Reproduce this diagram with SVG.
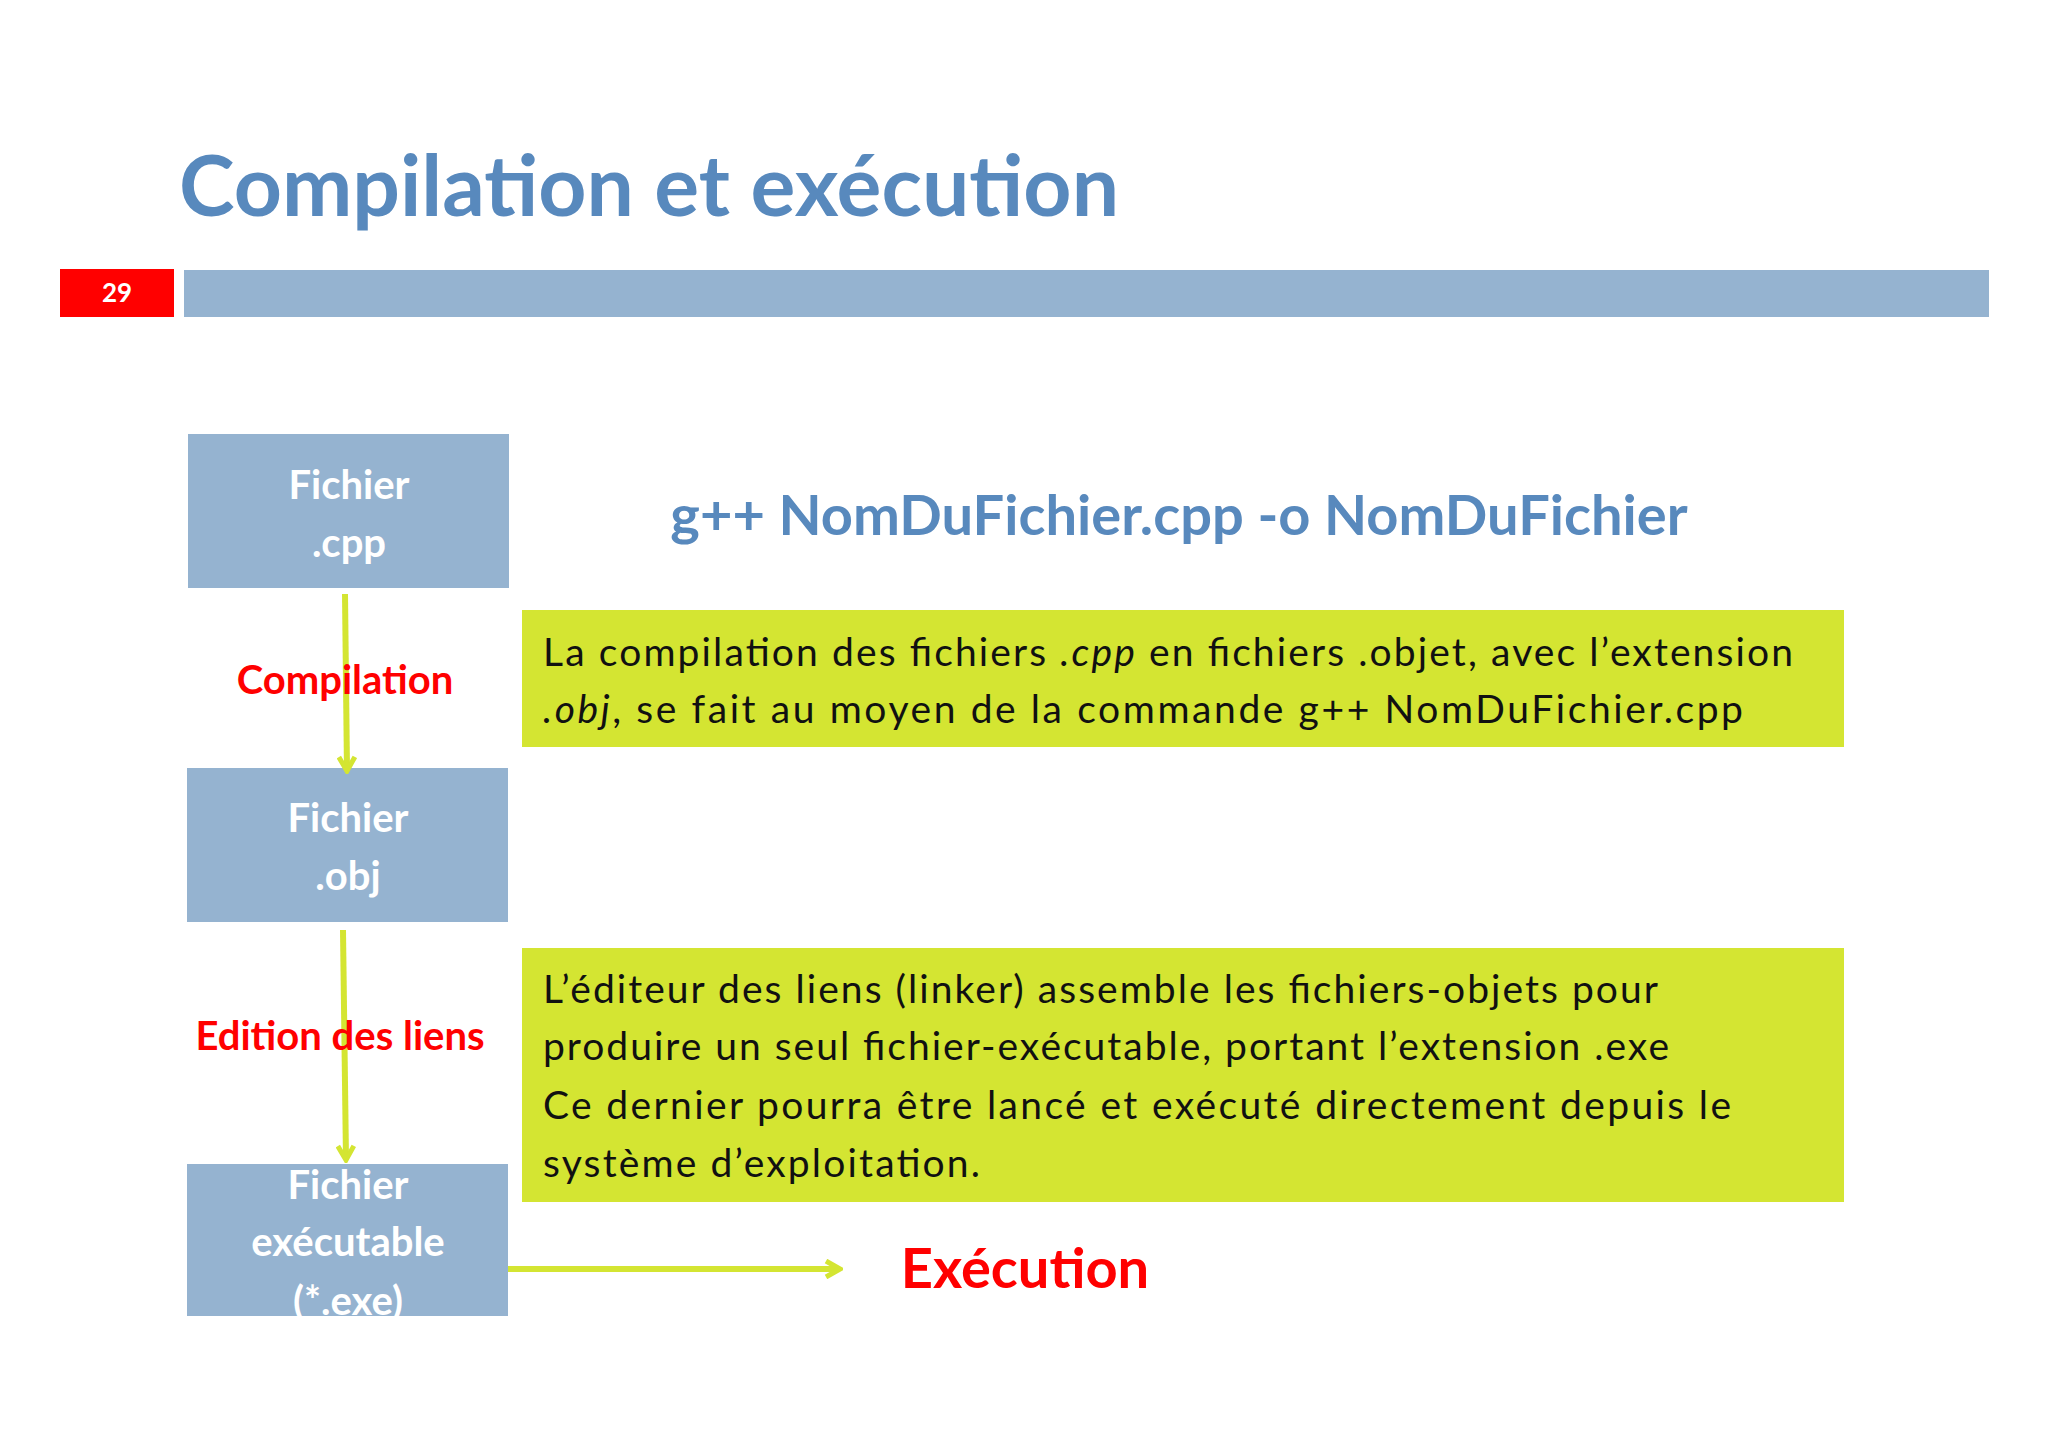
<svg xmlns="http://www.w3.org/2000/svg" width="2048" height="1447" viewBox="0 0 2048 1447">
<defs>
<style>
.t{font-family:Lato,"Open Sans","Liberation Sans",sans-serif}
.box{fill:#95b3d0}
.bt{font-family:Lato,"Open Sans",sans-serif;font-weight:bold;font-size:40px;fill:#fff;text-anchor:middle}
.gr{fill:#d4e532}
.body{font-family:Lato,"Open Sans",sans-serif;font-size:39px;fill:#111}
.red{font-family:Lato,"Open Sans",sans-serif;font-weight:bold;fill:#f00;text-anchor:middle}
.arr{stroke:#d4e532;stroke-width:6;fill:none}
</style>
<marker id="ah" viewBox="0 0 20 20" refX="17" refY="10" markerWidth="20" markerHeight="20" markerUnits="userSpaceOnUse" orient="auto"><path d="M3,2 L17,10 L3,18" fill="none" stroke="#d4e532" stroke-width="5"/></marker>
</defs>
<rect width="2048" height="1447" fill="#fff"/>
<text class="t" x="179" y="216" font-size="84" font-weight="bold" fill="#5889bd">Compilation et exécution</text>
<rect x="60" y="269" width="114" height="48" fill="#f00"/>
<text class="t" x="117" y="302" font-size="26" font-weight="bold" fill="#fff" text-anchor="middle">29</text>
<rect x="184" y="270" width="1805" height="47" fill="#95b3d0"/>
<g id="cpp"><rect class="box" x="188" y="434" width="321" height="154"/><text class="bt" x="349" y="499">Fichier</text><text class="bt" x="349" y="557">.cpp</text></g>
<g id="obj"><rect class="box" x="187" y="768" width="321" height="154"/><text class="bt" x="348" y="832">Fichier</text><text class="bt" x="348" y="890">.obj</text></g>
<g id="exe"><rect class="box" x="187" y="1164" width="321" height="152"/><text class="bt" x="348" y="1199">Fichier</text><text class="bt" x="348" y="1256">exécutable</text><text class="bt" x="348" y="1315">(*.exe)</text></g>
<text class="t" x="1179" y="535" font-size="56" font-weight="bold" fill="#5889bd" text-anchor="middle">g++ NomDuFichier.cpp -o NomDuFichier</text>
<g id="note1"><rect class="gr" x="522" y="610" width="1322" height="137"/>
<text class="body" x="543" y="666" textLength="1250">La compilation des fichiers <tspan font-style="italic">.cpp</tspan> en fichiers .objet, avec l’extension</text>
<text class="body" x="543" y="723" textLength="1200"><tspan font-style="italic">.obj</tspan>, se fait au moyen de la commande g++ NomDuFichier.cpp</text></g>
<g id="note2"><rect class="gr" x="522" y="948" width="1322" height="254"/>
<text class="body" x="543" y="1003" textLength="1115">L’éditeur des liens (linker) assemble les fichiers-objets pour</text>
<text class="body" x="543" y="1060" textLength="1126">produire un seul fichier-exécutable, portant l’extension .exe</text>
<text class="body" x="543" y="1119" textLength="1188">Ce dernier pourra être lancé et exécuté directement depuis le</text>
<text class="body" x="543" y="1177" textLength="437">système d’exploitation.</text></g>
<g id="connectors">
<line class="arr" x1="345" y1="594" x2="347" y2="771" marker-end="url(#ah)"/>
<line class="arr" x1="343" y1="930" x2="346" y2="1160" marker-end="url(#ah)"/>
<line class="arr" x1="508" y1="1269" x2="840" y2="1269" marker-end="url(#ah)"/>
</g>
<text class="red" x="345" y="694" font-size="40">Compilation</text>
<text class="red" x="340" y="1050" font-size="40">Edition des liens</text>
<text class="red" x="1025" y="1288" font-size="56">Exécution</text>
</svg>
